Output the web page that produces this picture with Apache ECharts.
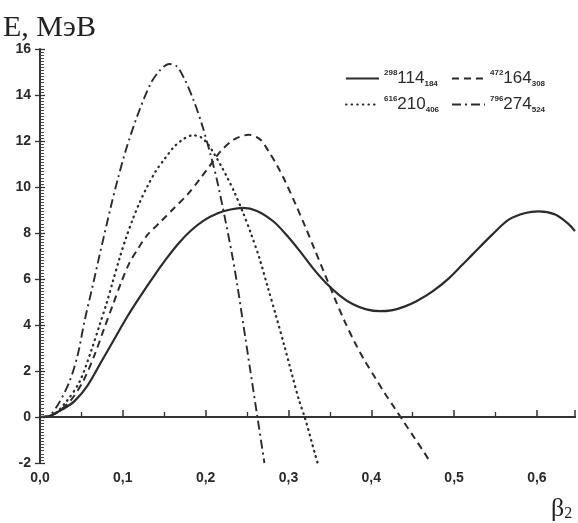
<!DOCTYPE html>
<html><head><meta charset="utf-8">
<script src="https://cdn.jsdelivr.net/npm/echarts@6/dist/echarts.min.js"></script>
<style>html,body{margin:0;padding:0;background:#fff}#c{width:578px;height:523px}</style>
</head><body><div id="c"></div>
<script>
// Legend parts: mass number, charge, neutron number
const legendMass = ['298', '472', '616', '796'];
const legendZ = ['114', '164', '210', '274'];
const legendN = ['184', '308', '406', '524'];
const seriesNames = ['298-114-184', '472-164-308', '616-210-406', '796-274-524'];

const xTicks = [0, 0.1, 0.2, 0.3, 0.4, 0.5, 0.6];
const yTicks = [-2, 0, 2, 4, 6, 8, 10, 12, 14, 16];

// 298 114 184 (solid)
const solidX = [0, 0.01, 0.03, 0.042, 0.058, 0.074, 0.09, 0.106, 0.122, 0.138, 0.154, 0.168, 0.182, 0.198, 0.214, 0.23, 0.245, 0.262, 0.282, 0.298, 0.314, 0.33, 0.346, 0.362, 0.378, 0.394, 0.41, 0.426, 0.44, 0.454, 0.474, 0.494, 0.51, 0.522, 0.546, 0.566, 0.586, 0.602, 0.622, 0.638, 0.646];
const solidY = [0, 0.03, 0.39, 0.7, 1.4, 2.4, 3.4, 4.4, 5.3, 6.15, 6.95, 7.58, 8.1, 8.55, 8.85, 9.02, 9.09, 8.96, 8.5, 7.9, 7.2, 6.45, 5.8, 5.28, 4.9, 4.68, 4.6, 4.65, 4.8, 5.02, 5.46, 6.04, 6.62, 7.06, 7.93, 8.58, 8.87, 8.94, 8.8, 8.4, 8.08];

// 472 164 308 (dashed)
const dashX = [0, 0.015, 0.036, 0.052, 0.066, 0.078, 0.088, 0.098, 0.108, 0.118, 0.13, 0.146, 0.162, 0.178, 0.194, 0.206, 0.218, 0.234, 0.252, 0.266, 0.276, 0.286, 0.296, 0.308, 0.32, 0.332, 0.344, 0.356, 0.368, 0.38, 0.392, 0.404, 0.416, 0.428, 0.44, 0.452, 0.464, 0.472];
const dashY = [0, 0.08, 0.68, 1.55, 2.71, 3.9, 4.88, 5.85, 6.7, 7.3, 7.93, 8.5, 9.09, 9.67, 10.39, 10.97, 11.55, 12.06, 12.27, 12.06, 11.55, 10.95, 10.25, 9.3, 8.3, 7.25, 6.2, 5.15, 4.15, 3.25, 2.45, 1.75, 1.05, 0.4, -0.25, -0.9, -1.55, -2.0];

// 616 210 406 (dotted)
const dotX = [0, 0.014, 0.032, 0.048, 0.062, 0.072, 0.08, 0.088, 0.096, 0.104, 0.112, 0.12, 0.13, 0.14, 0.15, 0.162, 0.174, 0.185, 0.195, 0.203, 0.211, 0.219, 0.227, 0.235, 0.245, 0.255, 0.265, 0.275, 0.285, 0.295, 0.305, 0.313, 0.32, 0.332, 0.336];
const dotY = [0, 0.05, 0.68, 1.55, 2.9, 4.0, 4.9, 5.9, 6.9, 7.8, 8.6, 9.3, 10.05, 10.7, 11.2, 11.75, 12.1, 12.25, 12.15, 11.85, 11.4, 10.9, 10.35, 9.75, 8.9, 7.95, 6.9, 5.65, 4.4, 3.1, 1.75, 0.7, -0.05, -1.6, -2.1];

// 796 274 524 (dash-dot)
const ddX = [0, 0.0096, 0.0216, 0.0357, 0.0456, 0.0537, 0.0636, 0.0717, 0.0856, 0.0936, 0.1036, 0.1176, 0.1336, 0.145, 0.1557, 0.165, 0.1737, 0.1857, 0.1957, 0.2056, 0.2137, 0.223, 0.2317, 0.2377, 0.2457, 0.2537, 0.2625, 0.271];
const ddY = [0, 0.03, 0.53, 1.55, 2.71, 4.16, 5.7, 7.0, 9.15, 10.3, 11.6, 13.1, 14.5, 15.08, 15.35, 15.25, 14.75, 13.75, 12.7, 11.45, 10.3, 8.7, 7.1, 5.85, 3.98, 2.08, 0, -2.0];

const pairs = (xs, ys) => xs.map((x, i) => [x, ys[i]]);
const ink = '#2b2b2b';

const rich = {
  sup: { fontSize: 8, fontFamily: 'Liberation Sans', fontWeight: 'bold', color: ink, verticalAlign: 'top', lineHeight: 9 },
  big: { fontSize: 17, fontFamily: 'Liberation Sans', color: ink, lineHeight: 19, verticalAlign: 'middle' },
  sub: { fontSize: 8, fontFamily: 'Liberation Sans', fontWeight: 'bold', color: ink, verticalAlign: 'bottom', lineHeight: 9 }
};
function legendFmt(name) {
  const i = seriesNames.indexOf(name);
  return '{sup|' + legendMass[i] + '}{big|' + legendZ[i] + '}{sub|' + legendN[i] + '}';
}
function mkLegend(i, left, top) {
  return {
    data: [seriesNames[i]], left: left, top: top, itemWidth: 33, itemHeight: 12,
    formatter: legendFmt, textStyle: { rich: rich }, selectedMode: false, padding: 0,
    itemStyle: { opacity: 0 }
  };
}

const styles = [
  { type: 'solid', width: 2.2 },
  { type: [7, 5], width: 2 },
  { type: [0.6, 5], width: 2.3, cap: 'round' },
  { type: [9, 4, 2, 4], width: 1.9 }
];
const datasets = [pairs(solidX, solidY), pairs(dashX, dashY), pairs(dotX, dotY), pairs(ddX, ddY)];

const series = datasets.map((d, i) => ({
  name: seriesNames[i], type: 'line', data: d, smooth: 0.3, symbol: 'none', showSymbol: false,
  lineStyle: Object.assign({ color: ink }, styles[i]), itemStyle: { color: ink },
  z: 3
}));
series[0].markLine = {
  silent: true, symbol: 'none', label: { show: false },
  lineStyle: { color: '#333', width: 2, type: 'solid' }, data: [{ yAxis: 0 }]
};

const labelX = v => (Math.abs(v * 10 - Math.round(v * 10)) > 1e-6 ? '' : v.toFixed(1).replace('.', ','));
const axisLineStyle = { show: true, lineStyle: { color: '#333', width: 2 } };

const option = {
  backgroundColor: '#fff',
  animation: false,
  grid: { left: 40, right: 0, top: 49, bottom: 60 },
  xAxis: [
    {
      type: 'value', min: xTicks[0], max: 0.646, interval: 0.1, position: 'bottom',
      axisLine: axisLineStyle,
      axisTick: { show: true, inside: true, length: 7, lineStyle: { color: '#333', width: 1.5 } },
      minorTick: { show: true, splitNumber: 2, length: 5, lineStyle: { color: '#333', width: 1.3 } },
      axisLabel: { formatter: labelX, fontSize: 14, fontWeight: 'bold', fontFamily: 'Liberation Sans', color: '#2a2a2a', margin: 8 },
      splitLine: { show: false }
    },
    {
      type: 'value', min: xTicks[0], max: 0.646, interval: 0.1, position: 'top',
      axisLine: axisLineStyle, axisTick: { show: false }, axisLabel: { show: false }, splitLine: { show: false }
    }
  ],
  yAxis: [
    {
      type: 'value', min: yTicks[0], max: yTicks[yTicks.length - 1], interval: 2,
      axisLine: axisLineStyle,
      axisTick: { show: true, inside: true, length: 5, lineStyle: { color: '#333', width: 1.3 } },
      minorTick: { show: true, splitNumber: 15, length: 4, lineStyle: { color: '#444', width: 1 } },
      axisLabel: { fontSize: 14, fontWeight: 'bold', fontFamily: 'Liberation Sans', color: '#2a2a2a', margin: 9 },
      splitLine: { show: false }
    },
    {
      type: 'value', min: yTicks[0], max: yTicks[yTicks.length - 1], interval: 2, position: 'left',
      axisLine: { show: false },
      axisTick: { show: true, inside: false, length: 5, lineStyle: { color: '#333', width: 1.3 } },
      axisLabel: { show: false }, splitLine: { show: false }
    }
  ],
  legend: [mkLegend(0, 345, 69), mkLegend(1, 451, 69), mkLegend(2, 345, 95), mkLegend(3, 451, 95)],
  graphic: [
    { type: 'text', left: 3, top: 13, style: { text: 'E, МэВ', font: '30px "Liberation Serif"', fill: '#222' } },
    {
      type: 'text', left: 551, top: 496,
      style: {
        text: '{b|β}{s|2}', fill: '#222',
        rich: {
          b: { font: '26px "Liberation Serif"', fill: '#222', lineHeight: 26, verticalAlign: 'middle' },
          s: { font: '16px "Liberation Serif"', fill: '#222', lineHeight: 12, verticalAlign: 'bottom' }
        }
      }
    }
  ],
  series: series
};
echarts.init(document.getElementById('c')).setOption(option);
</script>
</body></html>
